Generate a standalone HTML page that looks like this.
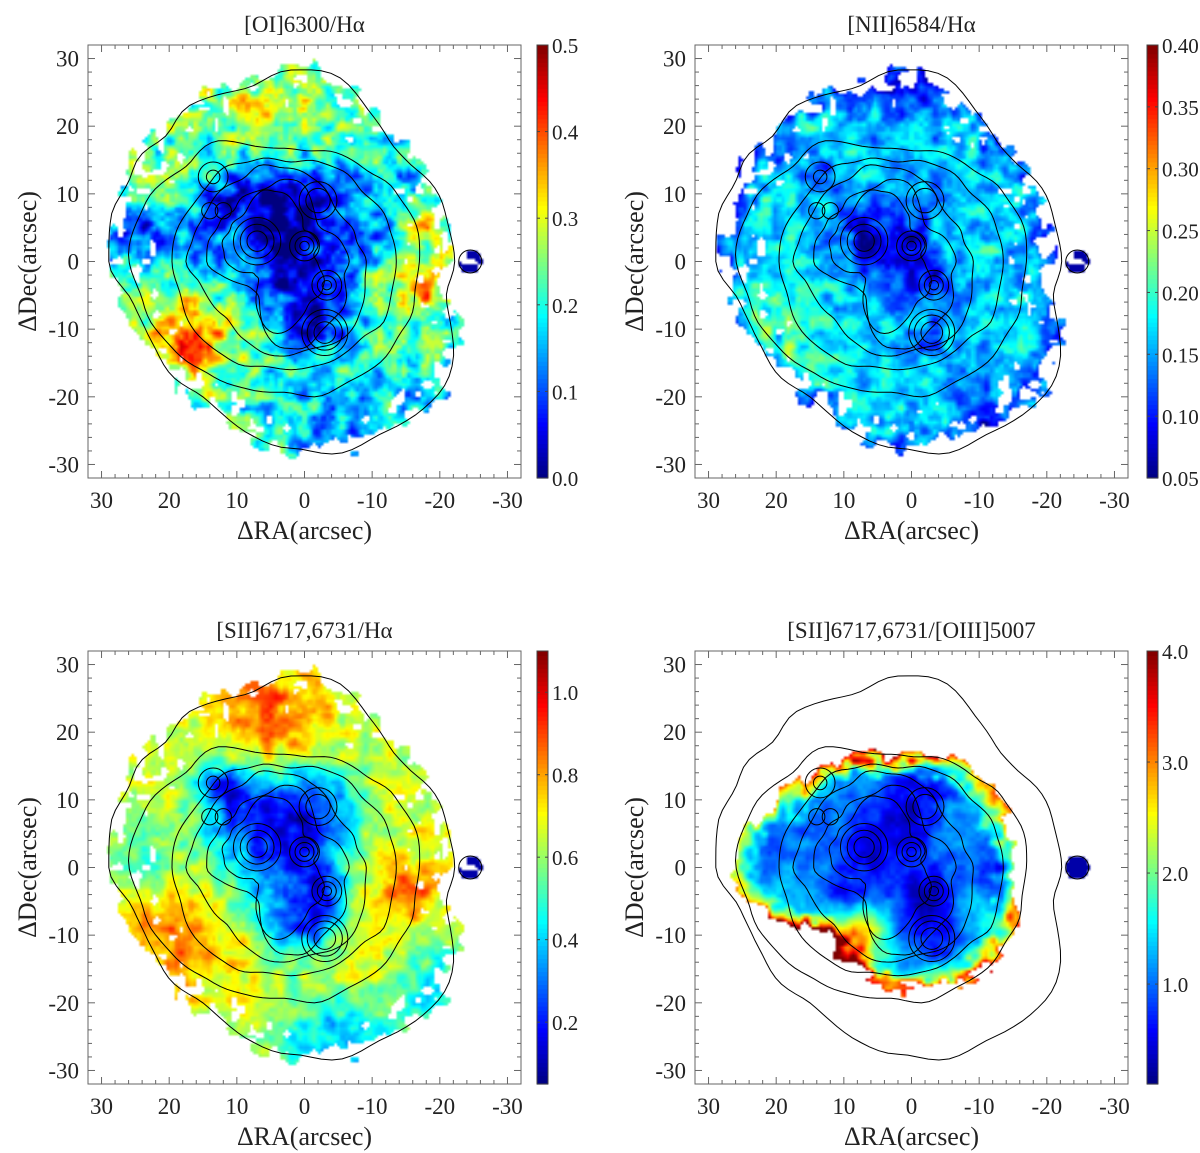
<!DOCTYPE html>
<html><head><meta charset="utf-8">
<style>
body{margin:0;background:#fff;width:1200px;height:1153px;overflow:hidden;font-family:"Liberation Serif",serif;}
#root{position:relative;width:1200px;height:1153px;}
canvas{position:absolute;image-rendering:auto;}
svg{position:absolute;left:0;top:0;}
</style></head>
<body>
<div id="root">
<svg id="svg" width="1200" height="1153"></svg>
</div>
<script>
// ---------- data ----------
const panelTitles = ["[OI]6300/H\u03b1","[NII]6584/H\u03b1","[SII]6717,6731/H\u03b1","[SII]6717,6731/[OIII]5007"];
const axisTicks = [30,20,10,0,-10,-20,-30];
const cbarMin = [0.0,0.05,0.05,0.1];
const cbarMax = [0.5,0.40,1.1,4.0];
const cbarTicks0 = [0.0,0.1,0.2,0.3,0.4,0.5];
const cbarTicks1 = [0.05,0.10,0.15,0.20,0.25,0.30,0.35,0.40];
const cbarTicks2 = [0.2,0.4,0.6,0.8,1.0];
const cbarTicks3 = [1.0,2.0,3.0,4.0];
const cbarLabels3 = ["1.0","2.0","3.0","4.0"];
const outlineAngles = [0,45,90,135,180,225,270,315];
const outlineR = [23,24,28,27,26,24,28,29];
const innerMaskR = [17,18,17,19,24,15,18,20];
const rimAmp = [1.0,1.3,2.4,1.6,0.8,3.2,1.4,1.7];
const blobs0 = [[3,2,7,-0.19],[0,-8,4,-0.1],[10,10,4,-0.12],[-1,10,4,-0.12],[22,3,4,-0.1],[27,5,3,-0.08],[18,-12,4,0.14],[-17,-3,3,0.15],[-18,5,2,0.12],[12,-8,5,0.07],[5,22,8,0.07],[-5,-25,6,-0.08],[-20,-20,4,-0.06],[-3,-10.5,2.5,-0.05],[-12,10,5,-0.06]];
const blobs1 = [[3,2,6,-0.05],[7,3,2.5,-0.05],[0,2.3,2,-0.06],[-3.3,-3.5,2,-0.07],[20,-10,5,0.05],[-10,-20,4,-0.04],[-3,-10.5,2.5,-0.03],[13.5,12.5,2,-0.05],[0,25,6,-0.04]];
const blobs2 = [[3,2,7,-0.4],[0,-8,4,-0.3],[10,10,4,-0.3],[-1,10,4,-0.3],[13,12,2,-0.2],[18,-10,6,0.22],[-15,-3,4,0.2],[5,22,6,0.22],[-5,-15,5,0.1],[-5,-25,6,-0.28],[-20,-18,5,-0.2],[25,0,4,-0.15],[-3.3,-3.5,2,-0.15]];
const blobs3 = [[4,3,7,-0.9],[22,4,4,-0.6],[-13,0,3,-0.9],[-3,-10,3.5,-0.8],[-3.3,-3.5,2.5,-0.6],[17,16,1.5,-0.8],[-15,-11,1.2,-0.8],[-5,-19,1.5,-0.8],[10,-4,2,-0.6],[-1,12,4,-0.6],[8,-10,3,1.5]];
const base = [0.22,0.17,0.65,1.45];
const noiseAmp = [0.1,0.05,0.12,0.3];
const contours = [
 [3,1,[20,18,16,20,23,21,21,21]],
 [2,0,[16,15,15,17,18,17,16,16]],
 [3,0,[12,11,14,14,14,12,14,14]],
 [3,0,[9,8,12,11,11,6,13,11]],
 [4,1,[6,6,10,8,8,4,12,8]]];
const knots = [[13.5,12.5,[1,2.2]],[14,7.5,[1.2]],[12,7.5,[1.2]],[0,2.3,[0.7,1.4,2.2]],[-3.3,-3.5,[0.7,1.4,2.2]],[-3,-10.5,[1.6,2.6,3.4]],[7,3,[1.5,2.5,3.5]],[-2,9,[1.8,2.8]],[-24.5,0,[1.7]]];
const panels = [{l:88,t:45,cx:537},{l:695,t:45,cx:1147},{l:88,t:651,cx:537},{l:695,t:651,cx:1147}];
const AW=433, AH=433, SC=AW/64;
const NS="http://www.w3.org/2000/svg";
const svg=document.getElementById('svg');
function jet(t){t=Math.max(0,Math.min(1,t));
 const r=Math.max(0,Math.min(1,1.5-Math.abs(4*t-3))),g=Math.max(0,Math.min(1,1.5-Math.abs(4*t-2))),b=Math.max(0,Math.min(1,1.5-Math.abs(4*t-1)));
 return [r*255|0,g*255|0,b*255|0];}
function hash(i,j,s){let h=(i*374761393+j*668265263+s*982451653)|0;h=(h^(h>>>13))*1274126177|0;return ((h^(h>>>16))>>>0)/4294967296;}
function vnoise(x,y,s){const i=Math.floor(x),j=Math.floor(y),fx=x-i,fy=y-j;
 const a=hash(i,j,s),b=hash(i+1,j,s),c=hash(i,j+1,s),d=hash(i+1,j+1,s);
 const ux=fx*fx*(3-2*fx),uy=fy*fy*(3-2*fy);return a+(b-a)*ux+(c-a)*uy+(a-b-c+d)*ux*uy;}
function polar(arr,ang){let a=((ang%360)+360)%360;const k=Math.floor(a/45),f=(a-k*45)/45;const f2=(1-Math.cos(f*Math.PI))/2;return arr[k]*(1-f2)+arr[(k+1)%8]*f2;}
function ang(u,v){return Math.atan2(v,u)*180/Math.PI;}
function X(p,ra){return p.l+(32-ra)*SC;}
function Y(p,dec){return p.t+(32-dec)*SC;}
function mk(tag,attrs,name,parent){const e=document.createElementNS(NS,tag);for(const k in attrs)e.setAttribute(k,attrs[k]);
 
 
 (parent||svg).appendChild(e);return e;}
function field(pi,ra,dec){const bl=[blobs0,blobs1,blobs2,blobs3][pi];let v=base[pi];
 for(const b of bl){const d2=(ra-b[0])**2+(dec-b[1])**2;v+=b[3]*Math.exp(-d2/(2*b[2]*b[2]));}
 v+=noiseAmp[pi]*((vnoise(ra/1.8,dec/1.8,pi+1)-0.5)*1.6+(vnoise(ra/0.7,dec/0.7,pi+7)-0.5)*0.8);
 return v;}
panels.forEach((p,pi)=>{
 const N=160, cell=64/N;
 const cv=document.createElement('canvas');cv.width=N;cv.height=N;
 cv.style.left=p.l+'px';cv.style.top=p.t+'px';cv.style.width=AW+'px';cv.style.height=AH+'px';
 
 
 document.getElementById('root').insertBefore(cv,svg);
 const ctx=cv.getContext('2d');const img=ctx.createImageData(N,N);
 for(let j=0;j<N;j++)for(let i=0;i<N;i++){
  const ra=32-(i+0.5)*cell, dec=32-(j+0.5)*cell;
  const u=-(ra-2), v=dec; const r=Math.hypot(u,v), a=ang(u,v);
  let R=polar(outlineR,a)+ (vnoise(ra/1.5,dec/1.5,11)-0.5)*5;
  if(pi==1) R-=1;
  let inside=r<R; let val;
  if(pi==3){const Ri=polar(innerMaskR,a)+(vnoise(ra/1.2,dec/1.2,13)-0.5)*3;inside=r<Ri;
   if(inside){val=field(3,ra,dec);const e=Math.max(0,1-(Ri-r)/4);val+=polar(rimAmp,a)*e*e+0.5*e;}}
  else if(inside){val=field(pi,ra,dec); if(pi==1){const e=Math.max(0,1-(R-r)/2.5);val-=0.05*e;}}
  const blobD=Math.hypot(ra+24.5,dec);
  if(blobD<1.8){inside=true;val=cbarMin[pi]+(cbarMax[pi]-cbarMin[pi])*0.04;}
  if(inside&&pi!=3&&r>R-5&&vnoise(ra/1.3,dec/1.3,21)>0.78)inside=false;
  const o=(j*N+i)*4;
  if(inside){const c=jet((val-cbarMin[pi])/(cbarMax[pi]-cbarMin[pi]));img.data[o]=c[0];img.data[o+1]=c[1];img.data[o+2]=c[2];img.data[o+3]=255;}
  else{img.data[o]=255;img.data[o+1]=255;img.data[o+2]=255;img.data[o+3]=255;}
 }
 ctx.putImageData(img,0,0);
 const g=mk('g',{},'panel-'+(pi+1));
 const cg=mk('g',{fill:'none',stroke:'#000','stroke-width':1},'contours',g);
 function polyPath(cra,cdec,rad,wig,seed){let d='';for(let k=0;k<=120;k++){const a=k*3;const rr=polar(rad,a)+(wig?(vnoise(Math.cos(a*Math.PI/180)*4+seed,Math.sin(a*Math.PI/180)*4,seed)-0.5)*wig:0);
  const u=rr*Math.cos(a*Math.PI/180),v=rr*Math.sin(a*Math.PI/180);d+=(k?'L':'M')+X(p,cra-u).toFixed(1)+','+Y(p,cdec+v).toFixed(1);}return d+'Z';}
 mk('path',{d:polyPath(2,0,outlineR,3,5)},'galaxy-outline-contour',cg);
 contours.forEach((c,ci)=>{mk('path',{d:polyPath(c[0],c[1],c[2],1.5,ci+2)},'contour-level-'+(ci+1),cg);});
 knots.forEach(k=>k[2].forEach(r=>{mk('circle',{cx:X(p,k[0]),cy:Y(p,k[1]),r:r*SC},'knot-contour',cg);}));
 mk('rect',{x:p.l,y:p.t,width:AW,height:AH,fill:'none',stroke:'#666','stroke-width':1},'axes-frame',g);
 for(let t=-30;t<=30;t+=2){const maj=t%10==0,L=maj?7:4;
  const x=X(p,t),y=Y(p,t);
  mk('line',{x1:x,y1:p.t+AH,x2:x,y2:p.t+AH-L,stroke:'#666'},'x-tick',g);
  mk('line',{x1:x,y1:p.t,x2:x,y2:p.t+L,stroke:'#666'},'x-tick-top',g);
  mk('line',{x1:p.l,y1:y,x2:p.l+L,y2:y,stroke:'#666'},'y-tick',g);
  mk('line',{x1:p.l+AW,y1:y,x2:p.l+AW-L,y2:y,stroke:'#666'},'y-tick-right',g);}
 axisTicks.forEach(t=>{
  const tx=mk('text',{x:X(p,t),y:p.t+AH+30,'font-size':23,'text-anchor':'middle',fill:'#222'},'x-tick-label',g);tx.textContent=t;
  const ty=mk('text',{x:p.l-9,y:Y(p,t)+8,'font-size':23,'text-anchor':'end',fill:'#222'},'y-tick-label',g);ty.textContent=t;});
 const xl=mk('text',{x:p.l+AW/2,y:p.t+AH+61,'font-size':26,'text-anchor':'middle',fill:'#222'},'x-axis-title',g);xl.textContent='\u0394RA(arcsec)';
 const yl=mk('text',{x:0,y:0,'font-size':26,'text-anchor':'middle',fill:'#222',transform:`translate(${p.l-52},${p.t+AH/2}) rotate(-90)`},'y-axis-title',g);yl.textContent='\u0394Dec(arcsec)';
 const tt=mk('text',{x:p.l+AW/2,y:p.t-13,'font-size':23,'text-anchor':'middle',fill:'#222'},'panel-title',g);tt.textContent=panelTitles[pi];
 const cb=mk('g',{},'colorbar',g);
 const nS=100;for(let s=0;s<nS;s++){const c=jet((s+0.5)/nS);
  mk('rect',{x:p.cx,y:p.t+AH-(s+1)*AH/nS,width:11,height:AH/nS+0.6,fill:`rgb(${c[0]},${c[1]},${c[2]})`},'colorbar-segment',cb);}
 mk('rect',{x:p.cx,y:p.t,width:11,height:AH,fill:'none',stroke:'#444'},'colorbar-frame',cb);
 const ticks=[cbarTicks0,cbarTicks1,cbarTicks2,cbarTicks3][pi];
 ticks.forEach((t,ti)=>{const y=p.t+AH-(t-cbarMin[pi])/(cbarMax[pi]-cbarMin[pi])*AH;
  mk('line',{x1:p.cx,y1:y,x2:p.cx+3,y2:y,stroke:'#444'},'colorbar-tick',cb);
  mk('line',{x1:p.cx+8,y1:y,x2:p.cx+11,y2:y,stroke:'#444'},'colorbar-tick',cb);
  const lt=mk('text',{x:p.cx+15,y:y+8,'font-size':21,fill:'#222'},'colorbar-tick-label',cb);
  lt.textContent=pi==3?cbarLabels3[ti]:(pi==1?t.toFixed(2):t.toFixed(1));});
});
</script>
</body></html>
